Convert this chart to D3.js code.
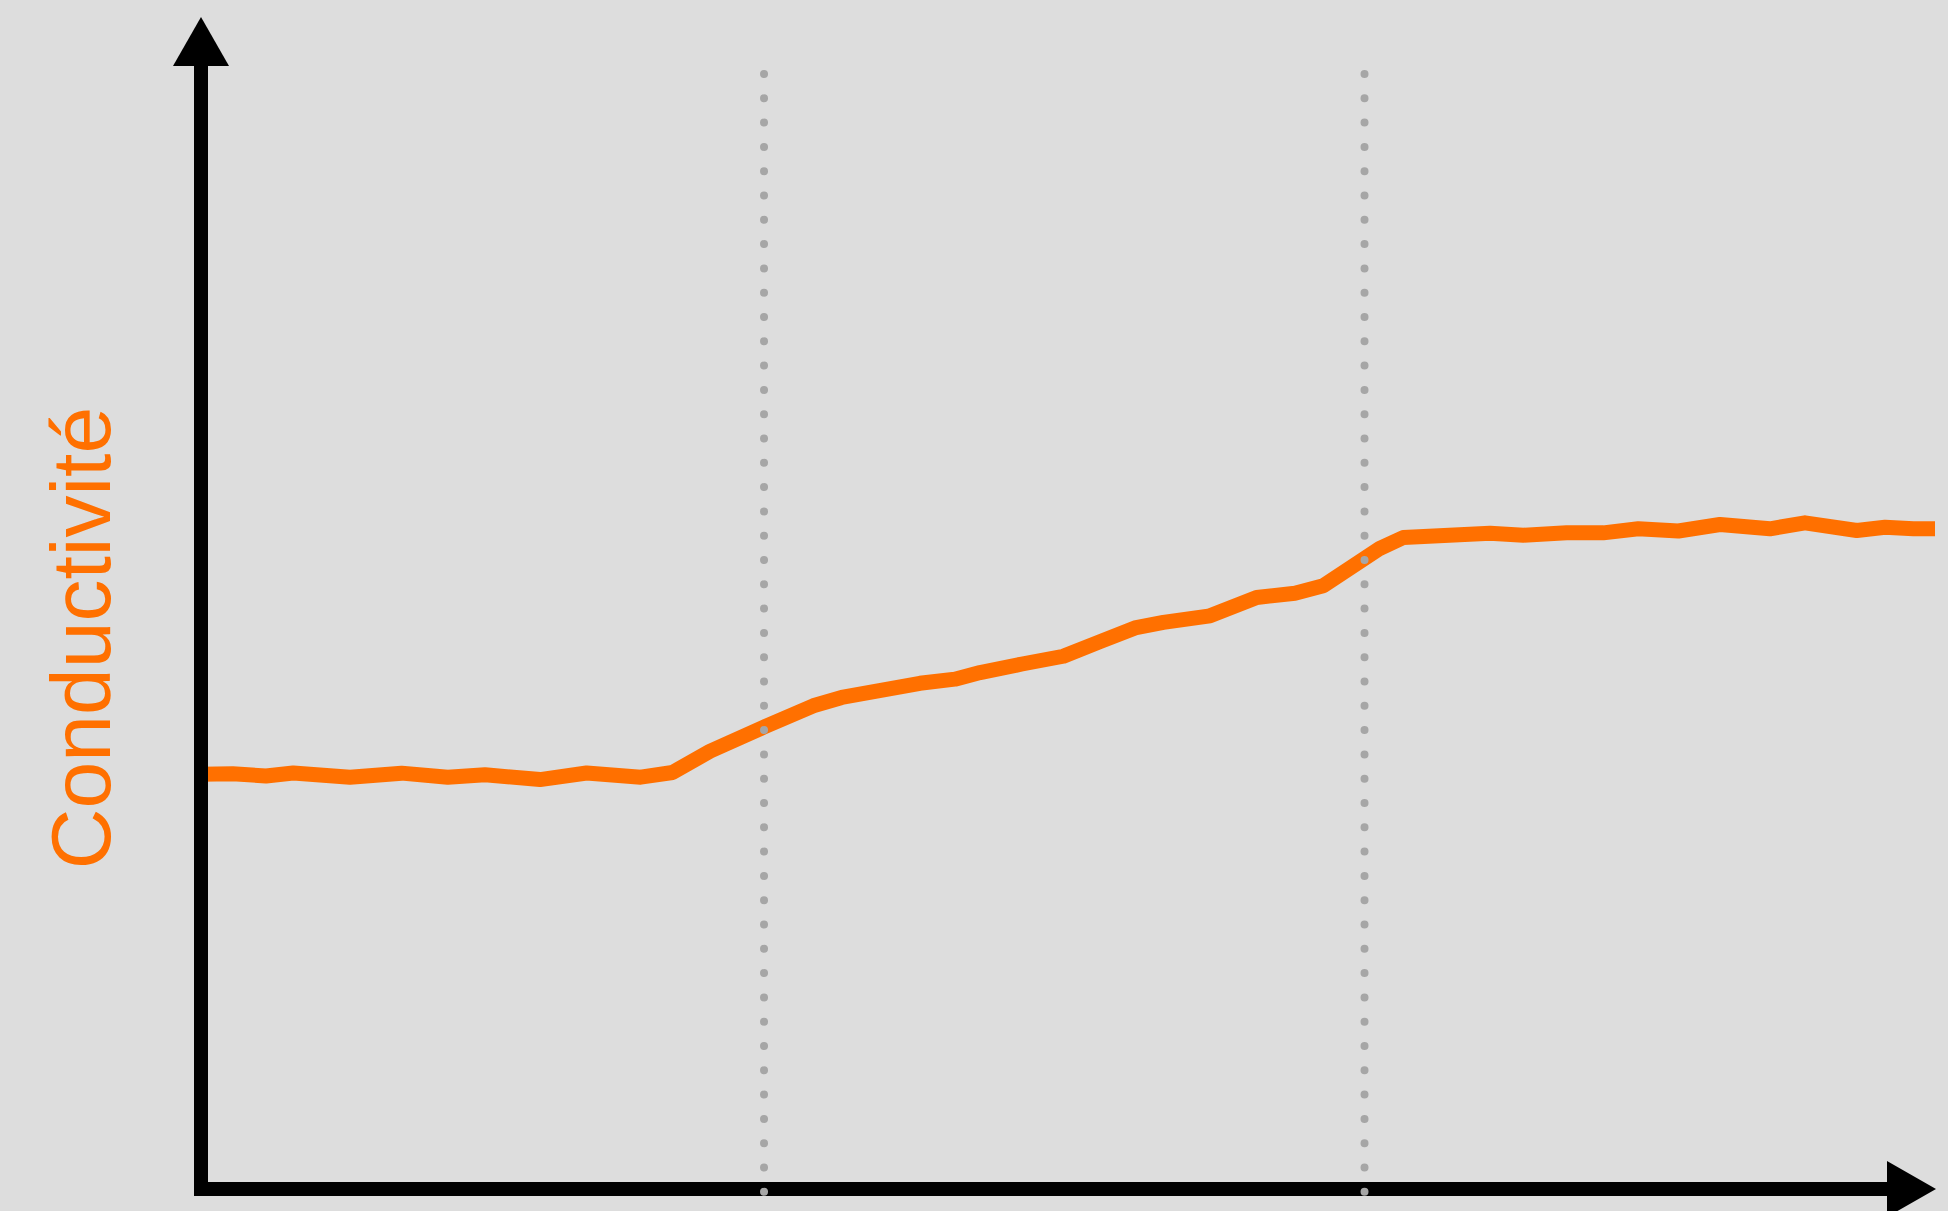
<!DOCTYPE html>
<html>
<head>
<meta charset="utf-8">
<script src="https://cdn.jsdelivr.net/npm/d3@7"></script>
<style>
  html, body { margin: 0; padding: 0; background: #dddddd; }
  svg { display: block; }
</style>
</head>
<body>
<div id="chart"></div>
<script>
// Données (unités arbitraires 0-100)
const temps = [0, 1.83, 3.75, 5.32, 8.59, 11.57, 14.23, 16.38, 19.55, 22.24, 25.36,
  27.19, 29.35, 32.47, 35.31, 36.95, 41.46, 43.48, 44.93, 47.35, 49.73, 51.85,
  53.86, 55.50, 58.19, 60.88, 63.09, 64.72, 67.99, 69.34, 74.34, 76.26, 78.76,
  80.87, 82.89, 85.20, 87.60, 90.48, 92.50, 95.49, 97.12, 98.75, 100];
const conductivite = [36.93, 36.98, 36.78, 37.04, 36.67, 37.03, 36.67, 36.89, 36.46, 37.04, 36.67,
  37.09, 38.98, 41.14, 43.03, 43.77, 45.03, 45.40, 45.99, 46.75, 47.44, 48.74,
  49.96, 50.45, 51.04, 52.67, 53.05, 53.71, 57.05, 58.01, 58.40, 58.22, 58.43,
  58.43, 58.79, 58.59, 59.17, 58.79, 59.32, 58.64, 58.93, 58.80, 58.80];
const reperes = [32.47, 67.10]; // lignes pointillées verticales
const labelY = "Conductivité";

const W = 1948, H = 1211;
const orange = "#ff7000";

const svg = d3.select("#chart")
  .append("svg")
    .attr("width", W)
    .attr("height", H);

svg.append("rect")
  .attr("width", W)
  .attr("height", H)
  .attr("fill", "#dddddd");

const x = d3.scaleLinear().domain([0, 100]).range([201, 1935]);
const y = d3.scaleLinear().domain([0, 100]).range([1189, 66]);

const data = temps.map((t, i) => ({ t, c: conductivite[i] }));

// Courbe
svg.append("path")
  .datum(data)
  .attr("fill", "none")
  .attr("stroke", orange)
  .attr("stroke-width", 15)
  .attr("stroke-linejoin", "round")
  .attr("d", d3.line().x(d => x(d.t)).y(d => y(d.c)));

// Axes avec flèches
const x0 = x(0), y0 = y(0), yTop = y(100);
svg.append("path")
  .attr("fill", "none")
  .attr("stroke", "#000")
  .attr("stroke-width", 14)
  .attr("stroke-linejoin", "miter")
  .attr("d", `M${x0},${yTop} L${x0},${y0} L1887,${y0}`);

svg.append("path")
  .attr("fill", "#000")
  .attr("d", `M${x0},17 L${x0 + 28},${yTop} L${x0 - 28},${yTop} Z`);

svg.append("path")
  .attr("fill", "#000")
  .attr("d", `M1936,${y0} L1887,${y0 - 28} L1887,${y0 + 28} Z`);

// Repères pointillés
svg.selectAll(".repere")
  .data(reperes)
  .join("line")
    .attr("class", "repere")
    .attr("x1", d => x(d))
    .attr("x2", d => x(d))
    .attr("y1", 74)
    .attr("y2", 1194)
    .attr("stroke", "#a6a6a6")
    .attr("stroke-width", 8)
    .attr("stroke-linecap", "round")
    .attr("stroke-dasharray", "0,24.3");

// Titre de l'axe
svg.append("text")
  .attr("transform", "translate(109.5,638) rotate(-90)")
  .attr("text-anchor", "middle")
  .style("font-family", "'Liberation Sans', Arial, sans-serif")
  .style("font-size", "84px")
  .attr("fill", orange)
  .text(labelY);
</script>
</body>
</html>
